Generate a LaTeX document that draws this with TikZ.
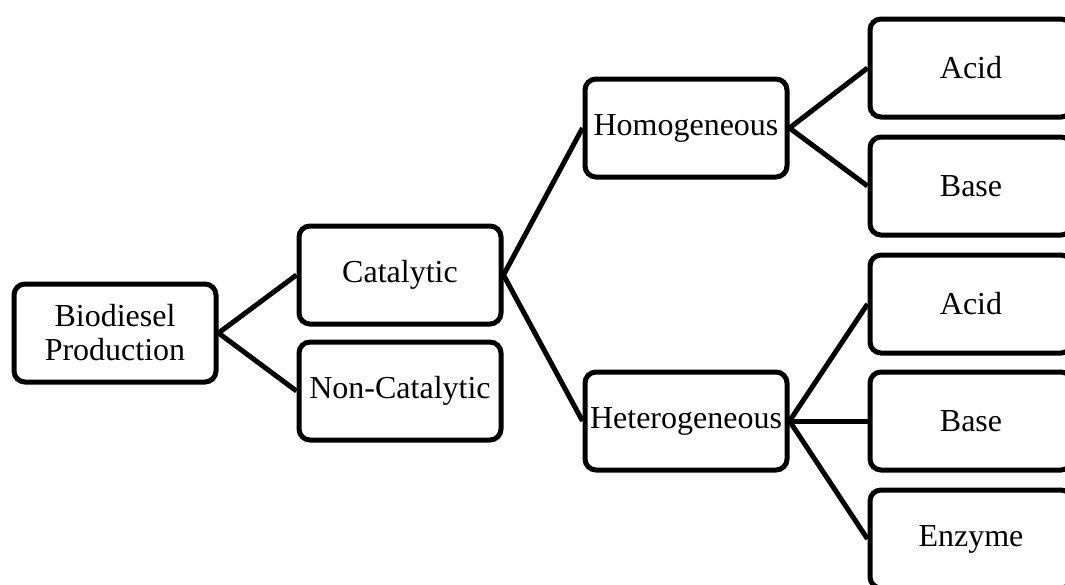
\documentclass[tikz,border=0pt]{standalone}
\usepackage{fontspec}
\setmainfont{Liberation Serif}
\begin{document}
\begin{tikzpicture}[x=1pt,y=-1pt,
  box/.style={draw=black, line width=5pt, rounded corners=11pt, fill=white,
    minimum width=202pt, minimum height=98pt, inner sep=0pt, align=center,
    font=\fontsize{32}{34}\selectfont},
  conn/.style={line width=5pt, draw=black}]
\useasboundingbox (0,0) rectangle (1065,584);
\clip (0,0) rectangle (1065,584);
\node[box] (bio) at (115,333) {Biodiesel\\Production};
\node[box] (cat) at (400,275) {Catalytic};
\node[box] (non) at (400,391) {Non-Catalytic};
\node[box] (hom) at (686,128) {Homogeneous};
\node[box] (het) at (686,421) {Heterogeneous};
\node[box] (a1) at (971,68) {Acid};
\node[box] (b1) at (971,186) {Base};
\node[box] (a2) at (971,304) {Acid};
\node[box] (b2) at (971,421) {Base};
\node[box] (enz) at (971,539) {Enzyme};
\draw[conn] (bio.east) -- (cat.west);
\draw[conn] (bio.east) -- (non.west);
\draw[conn] (cat.east) -- (hom.west);
\draw[conn] (cat.east) -- (het.west);
\draw[conn] (hom.east) -- (a1.west);
\draw[conn] (hom.east) -- (b1.west);
\draw[conn] (het.east) -- (a2.west);
\draw[conn] (het.east) -- (b2.west);
\draw[conn] (het.east) -- (enz.west);
\end{tikzpicture}
\end{document}
